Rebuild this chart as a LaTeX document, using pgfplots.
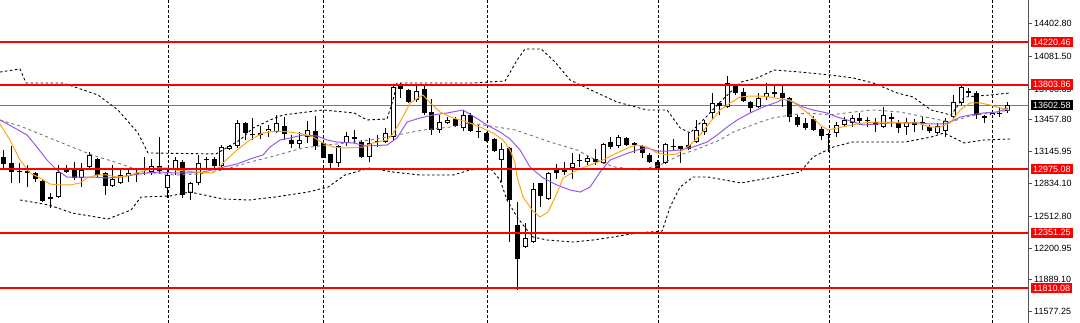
\documentclass[border=0pt]{standalone}
\usepackage{fontspec}
\setmainfont{Liberation Sans}
\usepackage{pgfplots}
\usepackage{pgfplotstable}
\pgfplotsset{compat=1.18}
\definecolor{maorange}{RGB}{255,165,20}
\definecolor{mapurple}{RGB}{150,90,235}
\definecolor{bandgrey}{RGB}{120,120,120}
\definecolor{axisgrey}{RGB}{80,80,80}

\pgfplotstableread{
i o h l c
0 13093 13162 12986 13025
1 13035 13201 12839 12946
2 12956 13035 12839 12951
3 12956 13015 12799 12937
4 12937 12946 12848 12878
5 12858 12868 12652 12662
6 12701 12741 12594 12682
7 12701 13015 12692 12946
8 12976 13015 12937 12946
9 12966 13044 12868 12888
10 12888 13035 12799 12966
11 12995 13142 12986 13113
12 13074 13084 12888 12917
13 12937 12946 12721 12809
14 12809 13015 12799 12878
15 12839 12966 12829 12917
16 12907 12986 12848 12937
17 12937 12986 12848 12932
18 12986 13093 12917 12981
19 12946 13074 12917 13005
20 13005 13289 12937 12956
21 12790 12986 12692 12917
22 12966 13093 12917 13064
23 13044 13064 12692 12721
24 12741 12848 12672 12839
25 12839 13113 12819 13035
26 13074 13093 12966 13069
27 13074 13093 12986 13005
28 13005 13211 12986 13191
29 13172 13211 13162 13201
30 13201 13456 13182 13427
31 13427 13436 13260 13329
32 13319 13476 13260 13309
33 13319 13397 13270 13324
34 13348 13407 13289 13368
35 13338 13505 13329 13427
36 13397 13485 13260 13319
37 13260 13309 13182 13221
38 13221 13338 13182 13260
39 13289 13446 13231 13358
40 13348 13495 13162 13201
41 13231 13240 13084 13084
42 13123 13123 12966 13035
43 13035 13211 12995 13201
44 13231 13338 13201 13299
45 13289 13358 13231 13270
46 13240 13260 13084 13093
47 13093 13280 13044 13231
48 13250 13309 13191 13245
49 13240 13378 13231 13329
50 13289 13799 13260 13779
51 13799 13819 13672 13760
52 13750 13760 13623 13632
53 13652 13799 13632 13740
54 13760 13799 13505 13525
55 13534 13662 13309 13358
56 13358 13505 13329 13436
57 13427 13485 13417 13456
58 13466 13485 13387 13397
59 13378 13554 13348 13505
60 13505 13525 13338 13348
61 13353 13407 13280 13343
62 13329 13338 13240 13250
63 13270 13280 13142 13152
64 13064 13231 12848 13172
65 13182 13191 12260 12672
66 12427 12652 11790 12094
67 12212 12447 12202 12300
68 12260 12839 12251 12780
69 12839 12839 12603 12711
70 12682 12946 12672 12937
71 12966 13025 12878 12937
72 12956 13044 12917 12961
73 12986 13133 12878 13035
74 13064 13123 12995 13059
75 13044 13103 13015 13084
76 13074 13172 13015 13044
77 13035 13231 13025 13221
78 13240 13289 13172 13191
79 13201 13309 13182 13289
80 13280 13289 13201 13211
81 13231 13240 13133 13211
82 13201 13211 13084 13133
83 13113 13133 13035 13044
84 13044 13064 12966 12986
85 13035 13231 13025 13221
86 13201 13270 13162 13196
87 13201 13201 13035 13172
88 13211 13329 13162 13172
89 13240 13456 13231 13358
90 13338 13456 13309 13427
91 13525 13721 13456 13623
92 13623 13632 13505 13593
93 13583 13887 13574 13819
94 13789 13809 13701 13721
95 13730 13770 13632 13642
96 13632 13642 13525 13574
97 13583 13721 13574 13672
98 13681 13819 13652 13721
99 13711 13799 13681 13730
100 13721 13809 13583 13672
101 13672 13681 13436 13485
102 13485 13505 13387 13407
103 13427 13476 13358 13378
104 13466 13495 13348 13358
105 13368 13387 13260 13299
106 13319 13329 13142 13309
107 13329 13436 13289 13407
108 13407 13485 13387 13456
109 13427 13505 13387 13476
110 13476 13525 13407 13446
111 13456 13485 13387 13451
112 13436 13476 13338 13407
113 13387 13583 13378 13505
114 13485 13525 13387 13466
115 13427 13456 13329 13378
116 13387 13476 13309 13436
117 13436 13466 13338 13407
118 13436 13485 13358 13431
119 13387 13407 13329 13348
120 13329 13427 13319 13397
121 13348 13476 13289 13446
122 13485 13701 13476 13632
123 13623 13799 13603 13779
124 13740 13770 13691 13721
125 13721 13740 13466 13505
126 13485 13505 13427 13495
127 13505 13534 13476 13525
128 13525 13583 13485 13520
129 13544 13632 13525 13602.58
}\candles

\pgfplotstableread{
x y
-0.51 13417
0.77 13260
2.06 13064
3.34 12937
4.63 12888
5.91 12829
7.20 12819
8.48 12819
9.77 12839
10.67 12888
11.95 12917
13.24 12917
14.52 12897
15.81 12907
17.10 12937
18.38 12966
19.67 12986
20.95 12986
21.98 12966
24.50 12946
26.86 12937
28.15 13035
29.95 13162
31.62 13260
33.29 13329
35.09 13348
36.76 13338
38.43 13319
39.72 13289
41.00 13231
42.29 13191
43.83 13182
46.14 13191
47.43 13231
49.23 13260
49.87 13309
50.90 13436
52.19 13623
53.86 13701
54.76 13623
56.04 13534
57.71 13476
59.51 13436
61.18 13387
62.85 13329
64.14 13260
65.04 13162
65.68 13035
65.94 12897
66.71 12701
67.87 12574
68.89 12505
69.92 12554
71.08 12741
71.85 12888
73.65 12966
75.32 13015
76.99 13064
78.79 13133
80.46 13191
81.36 13211
82.65 13191
83.93 13133
85.22 13113
86.50 13123
88.17 13211
89.46 13309
90.75 13436
92.03 13554
93.32 13623
94.60 13681
95.89 13691
97.17 13691
98.46 13681
99.74 13662
101.03 13652
102.31 13583
103.60 13505
104.88 13407
105.91 13358
107.07 13378
108.35 13397
110.41 13427
112.21 13436
113.88 13436
115.55 13427
117.35 13427
119.02 13387
120.31 13387
121.59 13427
122.88 13554
124.16 13623
125.45 13623
126.74 13603
128.02 13574
129.05 13554
}\maorangetab

\pgfplotstableread{
x y
-0.51 13456
1.16 13387
2.96 13309
4.24 13191
5.53 13064
6.81 12966
8.10 12897
9.77 12897
11.44 12897
13.24 12888
14.91 12897
16.58 12917
18.38 12937
20.05 12946
21.98 12937
23.52 12937
25.58 12946
27.76 12986
29.95 13025
32.01 13084
33.29 13113
34.19 13191
35.48 13260
36.76 13280
38.43 13309
40.23 13299
41.52 13260
42.80 13240
44.86 13231
46.66 13201
49.23 13211
50.51 13280
51.80 13436
53.47 13476
55.14 13505
56.94 13525
58.99 13554
60.28 13495
62.08 13407
63.75 13338
65.04 13270
66.32 13162
67.61 12995
69.28 12888
71.08 12819
72.75 12770
74.04 12750
75.32 12799
76.61 12946
77.89 13064
79.56 13113
81.36 13162
82.65 13182
83.93 13152
85.22 13152
86.89 13162
88.56 13191
90.36 13240
91.65 13309
92.93 13387
94.22 13456
95.89 13525
97.56 13583
99.36 13632
100.13 13662
101.41 13632
102.70 13583
103.98 13554
105.78 13525
107.07 13485
108.35 13456
110.41 13407
112.21 13417
113.88 13427
115.55 13427
117.35 13427
119.02 13417
120.69 13417
121.59 13436
122.88 13485
124.16 13505
125.84 13525
127.63 13534
129.05 13574
}\mapurpletab

\pgfplotstableread{
x y
-0.51 13926
2.06 13956
2.83 13819
7.46 13819
8.35 13799
12.08 13701
14.65 13554
17.22 13329
18.51 13133
27.25 13123
30.33 13260
32.01 13378
34.19 13456
35.86 13505
41.00 13554
44.99 13525
46.66 13456
49.23 13466
50.00 13652
50.51 13819
60.28 13819
64.40 13838
65.94 14044
66.97 14152
69.02 14152
70.82 14024
72.75 13848
75.71 13740
78.79 13632
82.65 13554
85.22 13554
86.89 13378
88.17 13329
90.10 13476
92.29 13652
94.73 13828
96.79 13868
98.97 13946
102.31 13926
106.17 13897
109.13 13868
111.70 13819
114.78 13721
116.84 13681
119.15 13554
121.72 13505
123.39 13681
126.74 13701
129.31 13721
}\bandUO

\pgfplotstableread{
x y
2.06 12672
5.78 12623
8.74 12545
13.37 12486
16.32 12574
17.61 12701
21.34 12711
23.91 12750
28.15 12682
31.49 12672
34.83 12701
39.07 12750
41.65 12799
43.83 12917
47.04 12986
50.00 12946
53.47 12917
57.71 12917
59.90 12966
62.47 12986
63.75 12868
64.65 12672
65.94 12505
67.22 12378
67.99 12309
69.79 12280
73.14 12260
75.71 12280
78.28 12309
81.36 12349
84.58 12368
85.60 12603
86.89 12799
88.56 12897
90.49 12897
94.73 12839
98.97 12897
102.31 12946
103.98 13093
106.56 13191
108.99 13240
115.81 13240
119.15 13289
120.82 13329
123.39 13231
125.96 13260
129.31 13270
}\bandLO

\pgfplotstableread{
x y
-0.51 13456
2.06 13397
4.63 13319
8.10 13211
11.31 13113
14.65 13035
17.87 12946
21.98 12917
25.19 12927
28.15 12966
31.62 13044
34.19 13093
38.43 13182
43.83 13231
47.04 13260
50.51 13309
53.86 13358
57.33 13387
59.90 13427
63.37 13387
65.68 13358
67.61 13309
70.18 13240
73.65 13162
75.32 13093
76.99 13035
78.53 12995
81.75 12966
84.32 13015
86.89 13113
89.46 13182
92.03 13260
93.70 13338
95.50 13387
97.17 13436
98.84 13476
101.03 13505
103.21 13525
106.17 13505
109.13 13534
111.70 13554
115.17 13534
119.02 13476
121.59 13436
124.16 13495
126.74 13525
129.31 13554
}\bandGU

\begin{document}
\begin{tikzpicture}
\begin{axis}[
  at={(0,0)}, anchor=south west,
  scale only axis, width=1028pt, height=323pt,
  xmin=-0.51, xmax=131.6, ymin=11466.6, ymax=14632.06,
  axis line style={draw=none},
  xtick=\empty,
  ytick={11577.25,11889.10,12200.95,12512.80,12834.10,13145.95,13457.80,13760.65,14081.50,14402.80},
  yticklabels={11577.25,11889.10,12200.95,12512.80,12834.10,13145.95,13457.80,13760.65,14081.50,14402.80},
  ytick pos=right, yticklabel pos=right,
  ytick style={draw=axisgrey, line width=0.8pt},
  tick align=outside, major tick length=4pt,
  yticklabel style={font=\fontsize{9}{10}\selectfont, inner sep=1pt, xshift=1pt},
]
% monthly separators
\addplot[black, line width=0.8pt, dash pattern=on 3pt off 2pt, forget plot] coordinates {(21.08,11466.6) (21.08,14632.06)};
\addplot[black, line width=0.8pt, dash pattern=on 3pt off 2pt, forget plot] coordinates {(41.0,11466.6) (41.0,14632.06)};
\addplot[black, line width=0.8pt, dash pattern=on 3pt off 2pt, forget plot] coordinates {(62.08,11466.6) (62.08,14632.06)};
\addplot[black, line width=0.8pt, dash pattern=on 3pt off 2pt, forget plot] coordinates {(84.06,11466.6) (84.06,14632.06)};
\addplot[black, line width=0.8pt, dash pattern=on 3pt off 2pt, forget plot] coordinates {(106.04,11466.6) (106.04,14632.06)};
\addplot[black, line width=0.8pt, dash pattern=on 3pt off 2pt, forget plot] coordinates {(127.0,11466.6) (127.0,14632.06)};
% current price line
\addplot[draw=bandgrey, line width=0.8pt, forget plot] coordinates {(-0.51,13602.58) (131.6,13602.58)};
% wicks
\addplot[draw=none, mark=none, forget plot,
  error bars/.cd, y dir=both, y explicit, error mark=none,
  error bar style={draw=black, line width=1pt}]
  table[x=i, y expr={(\thisrow{h}+\thisrow{l})/2}, y error expr={(\thisrow{h}-\thisrow{l})/2}] {\candles};
% bodies (black, outline of white)
\addplot[draw=none, mark=none, forget plot,
  error bars/.cd, y dir=both, y explicit, error mark=none,
  error bar style={draw=black, line width=5pt}]
  table[x=i, y expr={(\thisrow{o}+\thisrow{c})/2}, y error expr={max(abs(\thisrow{c}-\thisrow{o})/2,4.9)}] {\candles};
% white interiors of rising candles
\addplot[draw=none, mark=none, forget plot,
  error bars/.cd, y dir=both, y explicit, error mark=none,
  error bar style={draw=white, line width=3pt}]
  table[x=i, y expr={(\thisrow{o}+\thisrow{c})/2}, y error expr={(\thisrow{c}>\thisrow{o}) ? max((\thisrow{c}-\thisrow{o})/2-9.8,0) : 0}] {\candles};
% bands
\addplot[black, line width=0.9pt, dash pattern=on 2.5pt off 2.5pt, forget plot] table[x=x,y=y] {\bandUO};
\addplot[black, line width=0.9pt, dash pattern=on 2.5pt off 2.5pt, forget plot] table[x=x,y=y] {\bandLO};
\addplot[bandgrey, line width=0.9pt, dash pattern=on 3pt off 3pt, forget plot] table[x=x,y=y] {\bandGU};
% moving averages
\addplot[mapurple, line width=1pt, forget plot] table[x=x,y=y] {\mapurpletab};
\addplot[maorange, line width=1pt, forget plot] table[x=x,y=y] {\maorangetab};
% levels
\addplot[red, line width=2pt, forget plot] coordinates {(-0.51,14220.46) (131.6,14220.46)};
\addplot[red, line width=2pt, forget plot] coordinates {(-0.51,13803.86) (131.6,13803.86)};
\addplot[red, line width=2pt, forget plot] coordinates {(-0.51,12975.08) (131.6,12975.08)};
\addplot[red, line width=2pt, forget plot] coordinates {(-0.51,12351.25) (131.6,12351.25)};
\addplot[red, line width=2pt, forget plot] coordinates {(-0.51,11810.08) (131.6,11810.08)};
\coordinate (L1) at (axis cs:131.6,14220.46);
\coordinate (L2) at (axis cs:131.6,13803.86);
\coordinate (L3) at (axis cs:131.6,12975.08);
\coordinate (L4) at (axis cs:131.6,12351.25);
\coordinate (L5) at (axis cs:131.6,11810.08);
\coordinate (LP) at (axis cs:131.6,13602.58);
\coordinate (AB) at (rel axis cs:1,0);
\coordinate (AT) at (rel axis cs:1,1);
\end{axis}
\draw[axisgrey, line width=1pt] (AB) -- (AT);
\tikzset{lbl/.style={anchor=west, text=white, font=\fontsize{9}{10}\selectfont, inner xsep=2pt, inner ysep=1.8pt, text height=6.5pt, text depth=0pt}}
\node[lbl, fill=red] at ([xshift=3pt]L1) {14220.46};
\node[lbl, fill=red] at ([xshift=3pt]L2) {13803.86};
\node[lbl, fill=red] at ([xshift=3pt]L3) {12975.08};
\node[lbl, fill=red] at ([xshift=3pt]L4) {12351.25};
\node[lbl, fill=red] at ([xshift=3pt]L5) {11810.08};
\node[lbl, fill=black] at ([xshift=3pt]LP) {13602.58};
\pgfresetboundingbox
\path[use as bounding box] (0,0) rectangle (1080pt,323pt);
\end{tikzpicture}
\end{document}
